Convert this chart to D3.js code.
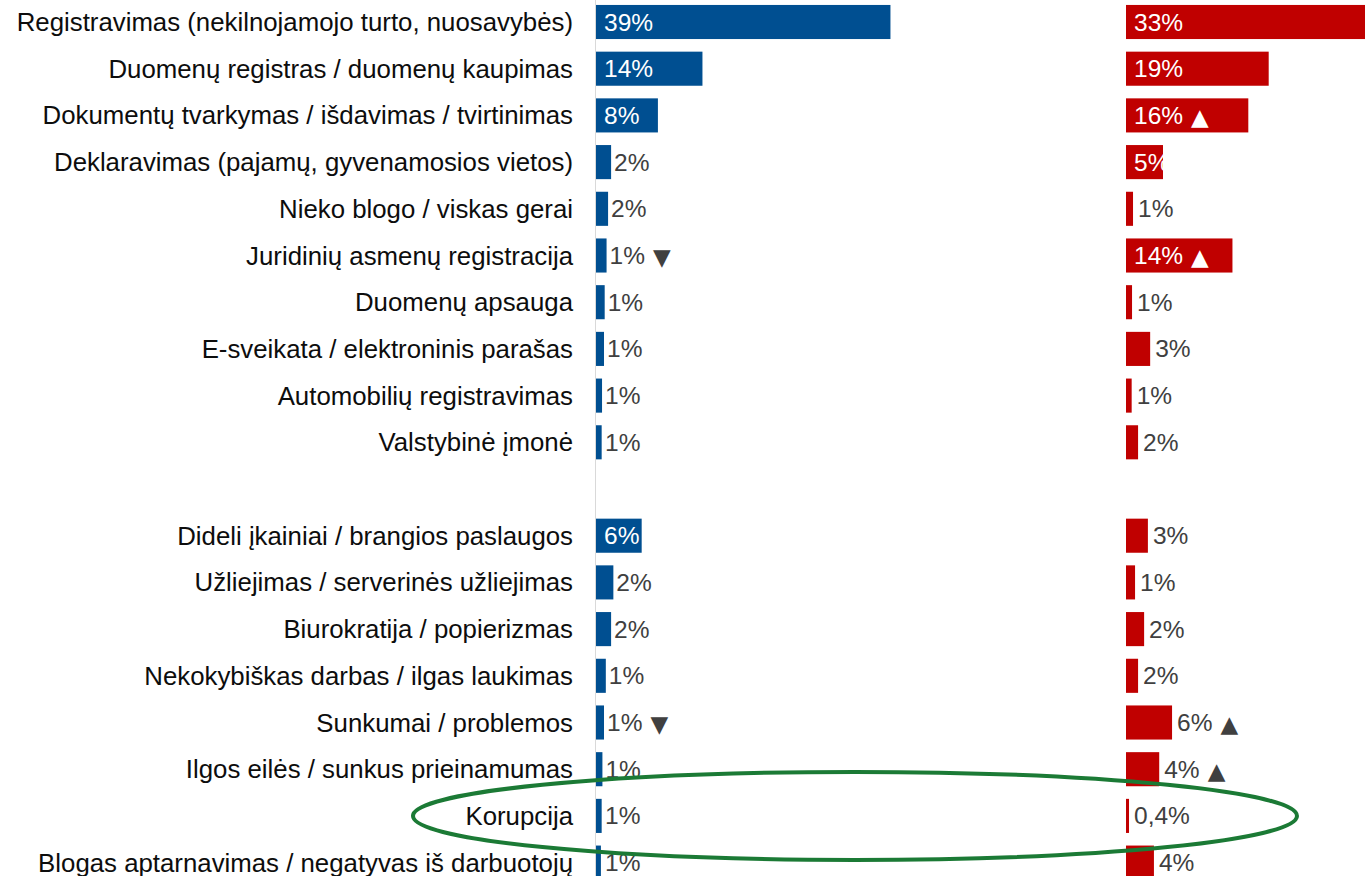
<!DOCTYPE html>
<html>
<head>
<meta charset="utf-8">
<script src="https://cdn.jsdelivr.net/npm/d3@7"></script>
<style>
  body { margin: 0; background: #fff; }
  svg { display: block; font-family: "Liberation Sans", Arial, sans-serif; }
</style>
</head>
<body>
<div id="chart"></div>
<script>
// rows, "" = empty slot between the two groups
const categories = [
  "Registravimas (nekilnojamojo turto, nuosavybės)",
  "Duomenų registras / duomenų kaupimas",
  "Dokumentų tvarkymas / išdavimas / tvirtinimas",
  "Deklaravimas (pajamų, gyvenamosios vietos)",
  "Nieko blogo / viskas gerai",
  "Juridinių asmenų registracija",
  "Duomenų apsauga",
  "E-sveikata / elektroninis parašas",
  "Automobilių registravimas",
  "Valstybinė įmonė",
  "",
  "Dideli įkainiai / brangios paslaugos",
  "Užliejimas / serverinės užliejimas",
  "Biurokratija / popierizmas",
  "Nekokybiškas darbas / ilgas laukimas",
  "Sunkumai / problemos",
  "Ilgos eilės / sunkus prieinamumas",
  "Korupcija",
  "Blogas aptarnavimas / negatyvas iš darbuotojų"
];

const blueValues = [39, 14.1, 8.2, 2.0, 1.6, 1.4, 1.15, 1.06, 0.8, 0.75, null,
                    6.05, 2.3, 2.0, 1.3, 1.06, 0.85, 0.75, 0.65];
const redValues  = [33, 18.9, 16.2, 4.9, 0.93, 14.1, 0.8, 3.2, 0.75, 1.6, null,
                    2.9, 1.2, 2.4, 1.6, 6.1, 4.4, 0.4, 3.7];

// significance markers: 1 = up, -1 = down
const blueMarks = [0, 0, 0, 0, 0, -1, 0, 0, 0, 0, 0,  0, 0, 0, 0, -1, 0, 0, 0];
const redMarks  = [0, 0, 1, 0, 0, 1, 0, 0, 0, 0, 0,  0, 0, 0, 0, 1, 1, 0, 0];

const highlighted = "Korupcija";

const width = 1365, height = 876;
const blueColor = "#004f91";
const redColor = "#c00000";
const labelColor = "#404040";
const catSize = 25.8;
const valSize = 24.5;

const svg = d3.select("#chart").append("svg")
    .attr("width", width)
    .attr("height", height);

const step = 46.7;
const y = d3.scaleBand()
    .domain(d3.range(categories.length))
    .range([22 - step / 2, 22 - step / 2 + step * categories.length])
    .paddingInner(0.27)
    .paddingOuter(0.135);

const x = d3.scaleLinear().domain([0, 40]).range([0, 302]);

const blueBase = 596, redBase = 1126;

// axis line
svg.append("line")
    .attr("x1", blueBase - 0.5).attr("x2", blueBase - 0.5)
    .attr("y1", 0).attr("y2", height)
    .attr("stroke", "#d9d9d9")
    .attr("stroke-width", 1);

// category labels
svg.append("g").selectAll("text")
    .data(categories)
    .join("text")
    .attr("x", blueBase - 23)
    .attr("y", (d, i) => y(i) + y.bandwidth() / 2)
    .attr("dy", "0.35em")
    .attr("text-anchor", "end")
    .attr("fill", "#0d0d0d")
    .style("font-size", catSize + "px")
    .text(d => d);

function fmt(v) {
    if (v < 0.5) return d3.format(".1f")(v).replace(".", ",") + "%";
    return Math.round(v) + "%";
}

function drawSeries(values, marks, base, color, outsideX) {
    const rows = values.map((v, i) => ({v, i, m: marks[i]})).filter(d => d.v !== null);
    const g = svg.append("g");

    g.selectAll("rect")
        .data(rows)
        .join("rect")
        .attr("x", base)
        .attr("y", d => y(d.i))
        .attr("width", d => x(d.v))
        .attr("height", y.bandwidth())
        .attr("fill", color);

    const labels = g.selectAll("text.val")
        .data(rows)
        .join("text")
        .attr("class", "val")
        .attr("y", d => y(d.i) + y.bandwidth() / 2)
        .attr("dy", "0.35em")
        .style("font-size", valSize + "px")
        .text(d => fmt(d.v));

    labels.filter(d => d.m !== 0)
        .append("tspan")
        .attr("dx", 8)
        .attr("dy", 1)
        .style("font-family", "'DejaVu Sans', sans-serif")
        .style("font-size", "23px")
        .text(d => d.m === 1 ? "▲" : "▼");

    labels.each(function(d) {
        const t = d3.select(this);
        const w = this.getComputedTextLength();
        const bw = x(d.v);
        if (w <= bw) {
            t.attr("x", base + 8).attr("fill", "#fff");
        } else {
            t.attr("x", outsideX(base + bw, base)).attr("fill", labelColor);
        }
    });
}

drawSeries(blueValues, blueMarks, blueBase, blueColor, (end, base) => Math.max(end + 3, base + 9));
drawSeries(redValues, redMarks, redBase, redColor, (end) => end + 5);

// highlight ring around one row
const hi = categories.indexOf(highlighted);
svg.append("ellipse")
    .attr("cx", 855)
    .attr("cy", y(hi) + y.bandwidth() / 2)
    .attr("rx", 442)
    .attr("ry", 44)
    .attr("fill", "none")
    .attr("stroke", "#1b7a35")
    .attr("stroke-width", 4);
</script>
</body>
</html>
